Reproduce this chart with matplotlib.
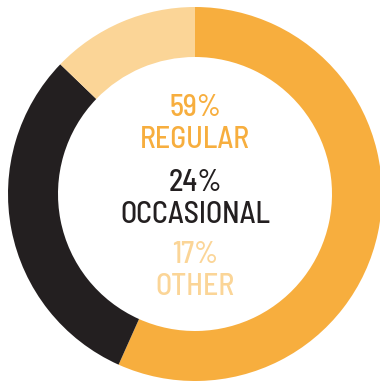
import matplotlib
matplotlib.use("Agg")
import matplotlib.pyplot as plt

labels = ["REGULAR", "OCCASIONAL", "OTHER"]
shares = [59, 24, 17]              # printed values
arc_shares = [56.7, 30.5, 12.8]    # ring as drawn in the original
colors = ["#F7AE3E", "#231F20", "#FBD597"]

fig = plt.figure(figsize=(3.80, 3.81), dpi=100)
ax = fig.add_axes([0, 0, 1, 1])

# ring, starting at 12 o'clock and running clockwise
ax.pie(arc_shares, colors=colors, startangle=90, counterclock=False,
       center=(195, 187), radius=187, frame=True,
       wedgeprops=dict(width=50, linewidth=0))
ax.set_xlim(0, 380)
ax.set_ylim(0, 381)
ax.set_aspect("equal")
ax.axis("off")

font = dict(family=["Barlow Semi Condensed", "DejaVu Sans"], weight=500,
            size=21.5, ha="center", va="baseline")
baselines = [265, 190, 118]   # baseline of each percent line
for lab, val, c, yb in zip(labels, shares, colors, baselines):
    ax.text(195, yb, f"{val}%", color=c, **font)
    ax.text(195, yb - 32, lab, color=c, **font)

fig.savefig("out.png", dpi=100)
